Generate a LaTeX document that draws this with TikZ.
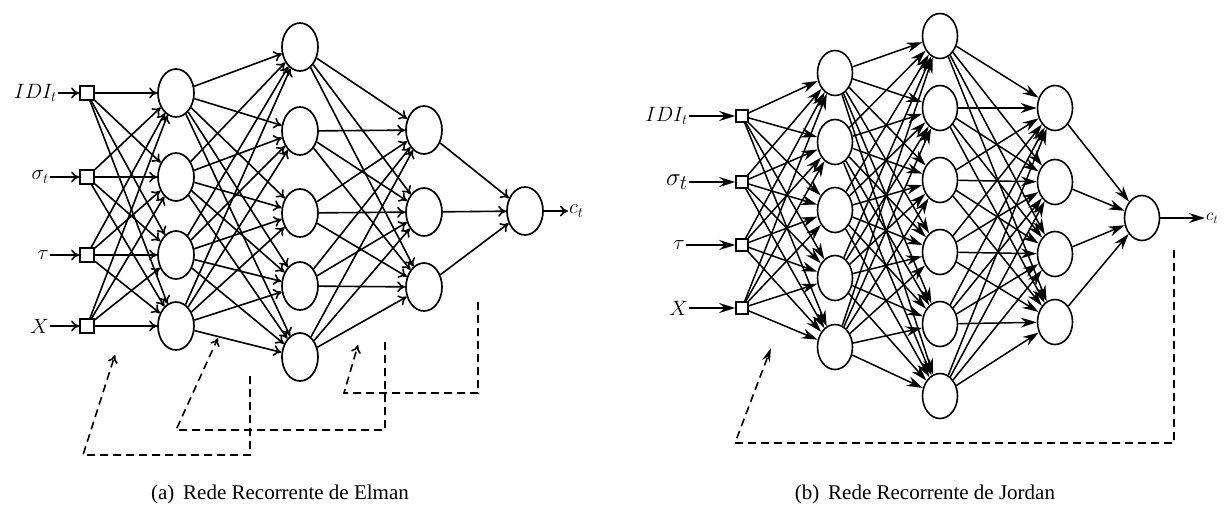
\documentclass[tikz,border=0pt]{standalone}
\usepackage{fontspec}
\setmainfont{Liberation Serif}
\usetikzlibrary{shapes.geometric,arrows.meta}

\tikzset{
  neuronA/.style={draw, ellipse, line width=1.7pt, minimum width=36pt, minimum height=48pt, inner sep=0pt, fill=white},
  neuronB/.style={draw, ellipse, line width=1.6pt, minimum width=35pt, minimum height=45pt, inner sep=0pt, fill=white},
  inboxA/.style={draw, rectangle, line width=1.7pt, minimum size=14pt, inner sep=0pt, fill=white},
  inboxB/.style={draw, rectangle, line width=1.6pt, minimum size=12pt, inner sep=0pt, fill=white},
  linkA/.style={line width=1.6pt, -{To[length=8pt,width=11pt]}},
  linkB/.style={line width=1.5pt, -{Stealth[length=16pt,width=10pt]}},
  feedA/.style={line width=1.6pt, dash pattern=on 8pt off 5pt, -{To[length=8pt,width=10pt]}},
  feedB/.style={line width=1.6pt, dash pattern=on 8pt off 5pt, -{Stealth[length=14pt,width=8pt]}},
  lblA/.style={anchor=east, inner sep=1pt, font=\fontsize{20.74}{22}\selectfont},
  lblB/.style={anchor=east, inner sep=1pt, font=\fontsize{20.74}{22}\selectfont},
  outlbl/.style={anchor=west, inner sep=1pt, font=\fontsize{17.28}{19}\selectfont},
  caption/.style={font=\fontsize{21}{24}\selectfont, inner sep=0pt}
}

\begin{document}
\begin{tikzpicture}[x=1pt,y=-1pt]
\useasboundingbox (0,0) rectangle (1230,507);

% ---------------- Elman network ----------------
% input units and their labels
\node[lblA] (ta1) at (58,93)  {$IDI_t$};
\node[lblA] (ta2) at (50,177) {$\sigma_t$};
\node[lblA] (ta3) at (50,255) {$\tau$};
\node[lblA] (ta4) at (50,326) {$X$};
\foreach \y [count=\i] in {93,177,255,326} {
  \node[inboxA] (ia\i) at (87,\y) {};
  \draw[linkA] (ta\i) -- (ia\i);
}
% hidden layers
\foreach \y [count=\i] in {93,177,255,326} \node[neuronA] (ha\i) at (176,\y) {};
\foreach \y [count=\i] in {47,131,213,286,357} \node[neuronA] (ka\i) at (300,\y) {};
\foreach \y [count=\i] in {130,212,287} \node[neuronA] (ma\i) at (424,\y) {};
\node[neuronA] (oa) at (525,211) {};
\node[outlbl, font=\fontsize{20.74}{22}\selectfont] (ca) at (568,211) {$c_t$};

% full connections
\foreach \i in {1,...,4} \foreach \j in {1,...,4} \draw[linkA] (ia\i) -- (ha\j);
\foreach \i in {1,...,4} \foreach \j in {1,...,5} \draw[linkA] (ha\i) -- (ka\j);
\foreach \i in {1,...,5} \foreach \j in {1,...,3} \draw[linkA] (ka\i) -- (ma\j);
\foreach \i in {1,...,3} \draw[linkA] (ma\i) -- (oa);
\draw[linkA] (oa) -- (ca);

% recurrent context loops
\coordinate (a1s) at (250,376); \coordinate (a1b) at (250,455);
\coordinate (a1c) at (83,455);  \coordinate (a1e) at (115,355);
\draw[feedA] (a1s) -- (a1b) -- (a1c) -- (a1e);
\coordinate (a2s) at (385,342); \coordinate (a2b) at (385,430);
\coordinate (a2c) at (176,430); \coordinate (a2e) at (218,338);
\draw[feedA] (a2s) -- (a2b) -- (a2c) -- (a2e);
\coordinate (a3s) at (478,302); \coordinate (a3b) at (478,393);
\coordinate (a3c) at (344,393); \coordinate (a3e) at (358,345);
\draw[feedA] (a3s) -- (a3b) -- (a3c) -- (a3e);

\node[caption] (capa) at (280,494) {(a)\, Rede Recorrente de Elman};

% ---------------- Jordan network ----------------
\node[lblB] (tb1) at (689,116) {$IDI_t$};
\node[lblB, font=\fontsize{24.88}{26}\selectfont] (tb2) at (689,182) {$\sigma_t$};
\node[lblB] (tb3) at (686,245) {$\tau$};
\node[lblB] (tb4) at (689,308) {$X$};
\foreach \y [count=\i] in {116,182,245,308} {
  \node[inboxB] (ib\i) at (742,\y) {};
  \draw[linkB] (tb\i) -- (ib\i);
}
\foreach \y [count=\i] in {73,142,210,278,347} \node[neuronB] (hb\i) at (835,\y) {};
\foreach \y [count=\i] in {36,108,180,252,324,396} \node[neuronB] (kb\i) at (940,\y) {};
\foreach \y [count=\i] in {108,182,254,322} \node[neuronB] (mb\i) at (1055,\y) {};
\node[neuronB] (ob) at (1142,218) {};
\node[outlbl] (cb) at (1205,218) {$c_t$};

\foreach \i in {1,...,4} \foreach \j in {1,...,5} \draw[linkB] (ib\i) -- (hb\j);
\foreach \i in {1,...,5} \foreach \j in {1,...,6} \draw[linkB] (hb\i) -- (kb\j);
\foreach \i in {1,...,6} \foreach \j in {1,...,4} \draw[linkB] (kb\i) -- (mb\j);
\foreach \i in {1,...,4} \draw[linkB] (mb\i) -- (ob);
\draw[linkB] (ob) -- (cb);

% output fed back to the input layer
\coordinate (bs) at (1174,250); \coordinate (bb) at (1174,443);
\coordinate (bc) at (735,443);  \coordinate (be) at (771,348);
\draw[feedB] (bs) -- (bb) -- (bc) -- (be);

\node[caption] (capb) at (925,494) {(b)\, Rede Recorrente de Jordan};
\end{tikzpicture}
\end{document}
